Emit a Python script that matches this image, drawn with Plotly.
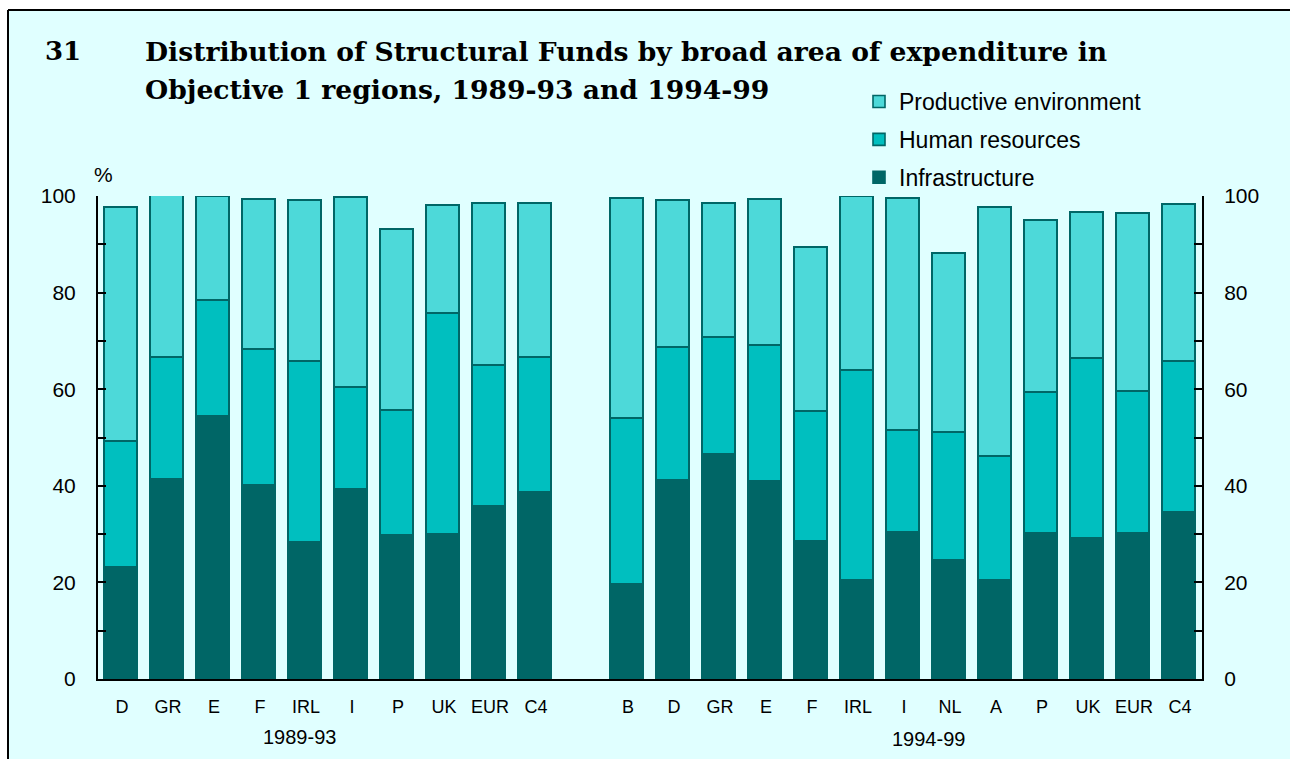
import plotly.graph_objects as go

# Shares of Structural Funds (%) by area of expenditure, Objective 1 regions
labels_8993 = ["D", "GR", "E", "F", "IRL", "I", "P", "UK", "EUR", "C4"]
infra_8993 = [23.0, 41.2, 54.3, 39.9, 28.1, 39.1, 29.6, 29.9, 35.7, 38.5]
human_8993 = [26.0, 25.3, 24.0, 28.2, 37.6, 21.2, 25.9, 45.6, 29.2, 28.0]
prod_8993 = [48.5, 34.4, 21.4, 31.0, 33.3, 39.2, 37.5, 22.5, 33.5, 31.8]

labels_9499 = ["B", "D", "GR", "E", "F", "IRL", "I", "NL", "A", "P", "UK", "EUR", "C4"]
infra_9499 = [19.4, 40.9, 46.3, 40.8, 28.3, 20.2, 30.2, 24.5, 20.2, 30.1, 28.9, 30.0, 34.4]
human_9499 = [34.5, 27.6, 24.3, 28.1, 26.9, 43.5, 21.2, 26.4, 25.7, 29.1, 37.4, 29.5, 31.2]
prod_9499 = [45.4, 30.5, 27.7, 30.3, 34.0, 36.1, 47.9, 37.1, 51.7, 35.6, 30.2, 36.8, 32.6]

periods = ["1989-93", "1994-99"]
series_names = ["Infrastructure", "Human resources", "Productive environment"]

BG = "#E0FFFF"
C_INFRA = "#006666"
C_HUMAN = "#00BFBF"
C_PROD = "#4DD9D9"
OUTLINE = "#006666"

# figure geometry (pixels)
W, H = 1290, 759
L, R, T, B = 98, 88, 196, 80
PW, PH = W - L - R, H - T - B

def px_x(p):
    return (p - L) / PW

def px_y(p):
    return (H - B - p) / PH

# category slots: the two periods separated by one empty slot
x_8993 = list(range(len(labels_8993)))
x_9499 = [len(labels_8993) + 1 + i for i in range(len(labels_9499))]
x_all = x_8993 + x_9499
labels_all = labels_8993 + labels_9499

values = {
    "Infrastructure": infra_8993 + infra_9499,
    "Human resources": human_8993 + human_9499,
    "Productive environment": prod_8993 + prod_9499,
}
colors = {
    "Infrastructure": C_INFRA,
    "Human resources": C_HUMAN,
    "Productive environment": C_PROD,
}
# legend lists the top segment first
legend_rank = {"Productive environment": 1, "Human resources": 2, "Infrastructure": 3}

fig = go.Figure()
for name in series_names:
    fig.add_trace(go.Bar(
        x=x_all, y=values[name], name=name, width=0.72,
        legendgroup=name, legendrank=legend_rank[name],
        marker=dict(color=colors[name], line=dict(color=OUTLINE, width=1.6)),
    ))

# empty trace so the right-hand percentage axis is drawn
fig.add_trace(go.Scatter(x=[None], y=[None], yaxis="y2", showlegend=False,
                         hoverinfo="skip", mode="markers"))

FONT = "Liberation Sans, Arial, sans-serif"
SERIF = "DejaVu Serif, serif"

axis_common = dict(
    range=[0, 100], dtick=20, tick0=0,
    ticks="inside", ticklen=8, tickwidth=2, tickcolor="black",
    minor=dict(dtick=10, ticks="inside", ticklen=8, tickwidth=2, tickcolor="black"),
    showgrid=False, zeroline=False,
    showline=True, linecolor="black", linewidth=2,
    tickfont=dict(size=21, family=FONT, color="black"),
    ticklabelstandoff=16,
)

fig.update_layout(
    width=W, height=H,
    barmode="stack",
    bargap=0,
    paper_bgcolor=BG,
    plot_bgcolor="rgba(0,0,0,0)",
    margin=dict(l=L, r=R, t=T, b=B, autoexpand=False),
    font=dict(family=FONT, color="black"),
    showlegend=True,
    legend=dict(
        xref="container", yref="container",
        x=859 / W, y=1 - 80 / H, xanchor="left", yanchor="top",
        traceorder="grouped", tracegroupgap=5,
        font=dict(size=23, family=FONT, color="black"),
        bgcolor="rgba(0,0,0,0)",
    ),
    xaxis=dict(
        range=[-0.52, x_all[-1] + 0.48],
        tickmode="array", tickvals=x_all, ticktext=labels_all,
        tickangle=0, automargin=False,
        ticks="", showgrid=False, zeroline=False,
        showline=True, linecolor="black", linewidth=2,
        tickfont=dict(size=18, family=FONT, color="black"),
        ticklabelstandoff=10,
    ),
    yaxis=dict(**axis_common, automargin=False),
    yaxis2=dict(**axis_common, overlaying="y", side="right", anchor="x", automargin=False),
)

# white page margin above and left of the panel, with the panel's border lines
frame = [
    dict(type="rect", x0=px_x(0), x1=px_x(W), y0=px_y(10), y1=px_y(0),
         fillcolor="white", line=dict(width=0)),
    dict(type="rect", x0=px_x(0), x1=px_x(8), y0=px_y(H), y1=px_y(0),
         fillcolor="white", line=dict(width=0)),
    dict(type="line", x0=px_x(8), x1=px_x(W), y0=px_y(10), y1=px_y(10),
         line=dict(color="black", width=2)),
    dict(type="line", x0=px_x(8), x1=px_x(8), y0=px_y(10), y1=px_y(H),
         line=dict(color="black", width=2)),
]
for s in frame:
    fig.add_shape(xref="paper", yref="paper", layer="below", **s)

annotations = [
    dict(text="<b>31</b>", x=px_x(43), y=px_y(51), xanchor="left", yanchor="middle",
         font=dict(family=SERIF, size=26)),
    dict(text="<b>Distribution of Structural Funds by broad area of expenditure in</b>",
         x=px_x(143), y=px_y(51), xanchor="left", yanchor="middle",
         font=dict(family=SERIF, size=26.6)),
    dict(text="<b>Objective 1 regions, 1989-93 and 1994-99</b>",
         x=px_x(143), y=px_y(89), xanchor="left", yanchor="middle",
         font=dict(family=SERIF, size=26.6)),
    dict(text="%", x=px_x(103), y=px_y(174), xanchor="center", yanchor="middle",
         font=dict(family=FONT, size=21)),
    dict(text=periods[0], x=3.87, xref="x", y=px_y(737), xanchor="center", yanchor="middle",
         font=dict(family=FONT, size=20)),
    dict(text=periods[1], x=17.54, xref="x", y=px_y(739), xanchor="center", yanchor="middle",
         font=dict(family=FONT, size=20)),
]
for a in annotations:
    a.setdefault("xref", "paper")
    a["yref"] = "paper"
    a["showarrow"] = False
    fig.add_annotation(**a)

fig.write_html("out.html")
